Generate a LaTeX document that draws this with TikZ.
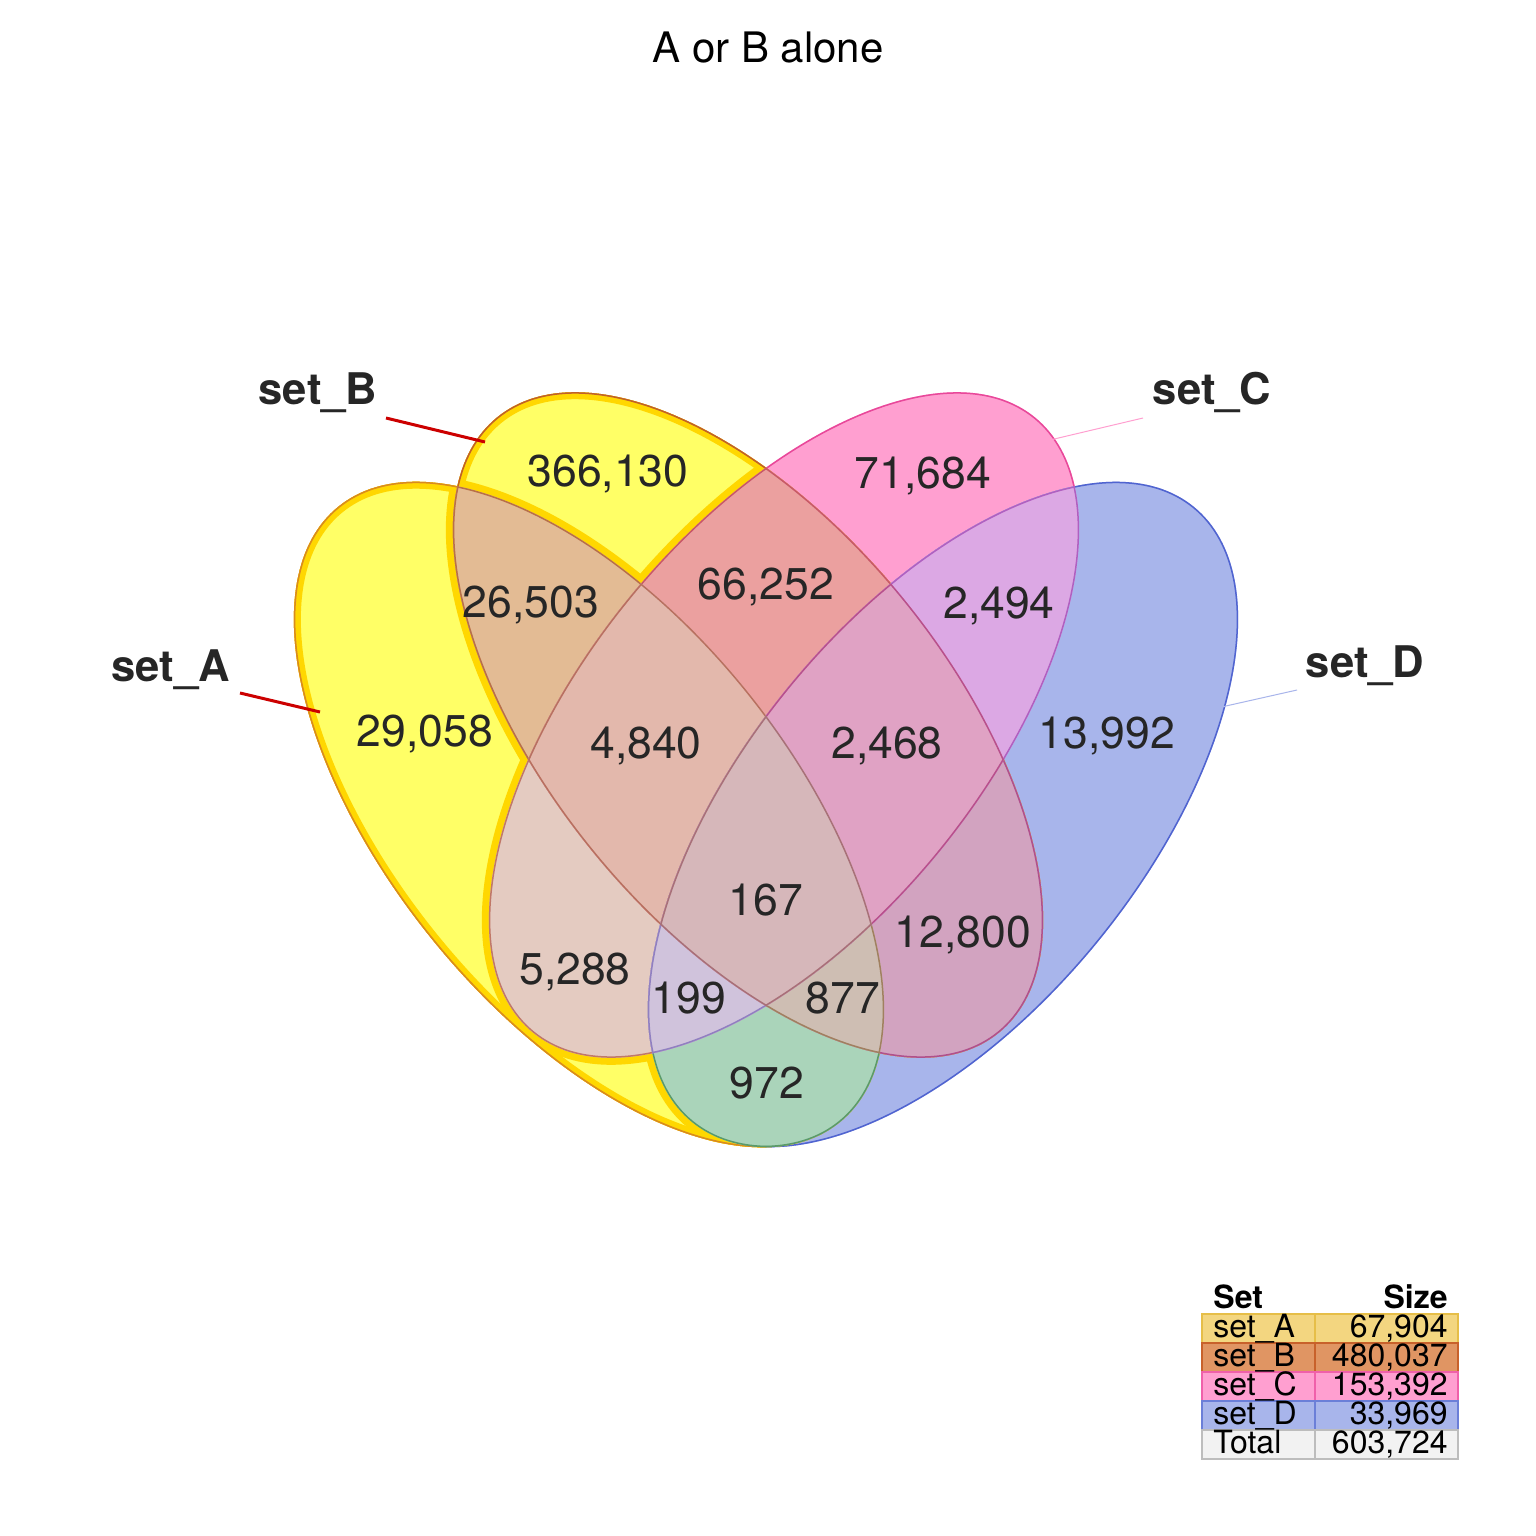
\documentclass[tikz,border=0pt]{standalone}
\usepackage{fontspec}
\setmainfont{TeX Gyre Heros}
\definecolor{cY}{HTML}{FFFF66}
\definecolor{cGold}{HTML}{FFD700}
\definecolor{cC}{HTML}{FF9FD0}
\definecolor{cD}{HTML}{A8B5EB}
\definecolor{cAB}{HTML}{E3BB94}
\definecolor{cAC}{HTML}{E4CBC1}
\definecolor{cAD}{HTML}{AAD4BA}
\definecolor{cBC}{HTML}{EBA09F}
\definecolor{cBD}{HTML}{D2A3C0}
\definecolor{cCD}{HTML}{DCA8E4}
\definecolor{cABC}{HTML}{E3B8AC}
\definecolor{cABD}{HTML}{CEBEB3}
\definecolor{cACD}{HTML}{D0C3DC}
\definecolor{cBCD}{HTML}{E0A2C4}
\definecolor{cABCD}{HTML}{D6B7BA}
% stroke colours of each region
\definecolor{sA}{HTML}{D98A20}
\definecolor{sB}{HTML}{C0602A}
\definecolor{sC}{HTML}{E8489A}
\definecolor{sD}{HTML}{5064D0}
\definecolor{sAB}{HTML}{B87048}
\definecolor{sAC}{HTML}{C07868}
\definecolor{sAD}{HTML}{5A9A6A}
\definecolor{sBC}{HTML}{C85868}
\definecolor{sBD}{HTML}{B0508C}
\definecolor{sCD}{HTML}{B060C0}
\definecolor{sABC}{HTML}{B87060}
\definecolor{sABD}{HTML}{A08060}
\definecolor{sACD}{HTML}{9080C0}
\definecolor{sBCD}{HTML}{B8508C}
\definecolor{sABCD}{HTML}{A87078}
\definecolor{numgray}{HTML}{262626}
\definecolor{leadred}{HTML}{CC0000}
\definecolor{tA}{HTML}{F3D680}
\definecolor{tAb}{HTML}{E6BE48}
\definecolor{tB}{HTML}{E09563}
\definecolor{tBb}{HTML}{C8612B}
\definecolor{tC}{HTML}{FF9FD0}
\definecolor{tCb}{HTML}{F060AA}
\definecolor{tD}{HTML}{A8B5EB}
\definecolor{tDb}{HTML}{6B7FD8}
\definecolor{tT}{HTML}{F2F2F2}
\definecolor{tTb}{HTML}{BDBDBD}
\def\vellipse{(0,0) ellipse [x radius=198.5pt, y radius=100.25pt]}
\newcommand\singleL[3]{\fill[e#1,fill=#2]\vellipse;
  \begin{scope}\clip[e#1]\vellipse;\draw[e#1,draw=#3,sline]\vellipse;\end{scope}}
\newcommand\pairL[4]{\begin{scope}\clip[e#1]\vellipse;\clip[e#2]\vellipse;
  \fill[e#2,fill=#3]\vellipse;
  \draw[e#1,draw=#4,sline]\vellipse;\draw[e#2,draw=#4,sline]\vellipse;\end{scope}}
\newcommand\tripL[5]{\begin{scope}\clip[e#1]\vellipse;\clip[e#2]\vellipse;\clip[e#3]\vellipse;
  \fill[e#3,fill=#4]\vellipse;
  \draw[e#1,draw=#5,sline]\vellipse;\draw[e#2,draw=#5,sline]\vellipse;\draw[e#3,draw=#5,sline]\vellipse;\end{scope}}
\tikzset{
  eA/.style={shift={(589,814.5)},rotate=129.2},
  eB/.style={shift={(748,725)},rotate=129.2},
  eC/.style={shift={(784,725)},rotate=50.8},
  eD/.style={shift={(943,814.5)},rotate=50.8},
  band/.style={draw=cGold, line width=7pt},
  sline/.style={line width=1.5pt},
  num/.style={anchor=base, inner sep=0pt, text=numgray, font=\fontsize{22.25}{26}\selectfont},
  lab/.style={anchor=base, inner sep=0pt, text=numgray, font=\fontsize{21.8}{26}\selectfont\bfseries},
  leadAB/.style={draw=leadred, line width=1.5pt},
  tcell/.style={line width=0.8pt},
  ttxt/.style={inner sep=0pt, font=\fontsize{16}{19}\selectfont},
}
\begin{document}
\begin{tikzpicture}[x=0.5pt,y=-0.5pt]
\fill[white] (0,0) rectangle (1536,1536);
\useasboundingbox (0,0) rectangle (1536,1536);
% single sets
\singleL{A}{cY}{sA}
\singleL{B}{cY}{sB}
\singleL{C}{cC}{sC}
\singleL{D}{cD}{sD}
% gold bands for A alone and B alone
\begin{scope}
  \clip[eA]\vellipse;
  \draw[eA,band]\vellipse;
  \draw[eB,band]\vellipse;
  \draw[eC,band]\vellipse;
  \draw[eD,band]\vellipse;
  \draw[eA,draw=sA,sline]\vellipse;
\end{scope}
\begin{scope}
  \clip[eB]\vellipse;
  \draw[eB,band]\vellipse;
  \draw[eA,band]\vellipse;
  \draw[eC,band]\vellipse;
  \draw[eD,band]\vellipse;
  \draw[eB,draw=sB,sline]\vellipse;
\end{scope}
% pairs
\pairL{A}{B}{cAB}{sAB}
\pairL{A}{C}{cAC}{sAC}
\pairL{A}{D}{cAD}{sAD}
\pairL{B}{C}{cBC}{sBC}
\pairL{B}{D}{cBD}{sBD}
\pairL{C}{D}{cCD}{sCD}
% triples
\tripL{A}{B}{C}{cABC}{sABC}
\tripL{A}{B}{D}{cABD}{sABD}
\tripL{A}{C}{D}{cACD}{sACD}
\tripL{B}{C}{D}{cBCD}{sBCD}
% all four
\begin{scope}
  \clip[eA]\vellipse; \clip[eB]\vellipse; \clip[eC]\vellipse; \clip[eD]\vellipse;
  \fill[eD,fill=cABCD]\vellipse;
  \draw[eA,draw=sABCD,sline]\vellipse;
  \draw[eB,draw=sABCD,sline]\vellipse;
  \draw[eC,draw=sABCD,sline]\vellipse;
  \draw[eD,draw=sABCD,sline]\vellipse;
\end{scope}
% title
\node[anchor=base, inner sep=0pt, font=\fontsize{21}{25}\selectfont] (title) at (768,63) {A or B alone};
% set labels and leaders
\node[lab] (labA) at (170.5,681) {set\_A};
\node[lab] (labB) at (318,404) {set\_B};
\node[lab] (labC) at (1212,404) {set\_C};
\node[lab] (labD) at (1365,677) {set\_D};
\coordinate (a0) at (240,693); \coordinate (a1) at (320,712);
\coordinate (b0) at (386,418); \coordinate (b1) at (485,442);
\coordinate (c0) at (1143,418); \coordinate (c1) at (1050,440);
\coordinate (d0) at (1297,690); \coordinate (d1) at (1217,708);
\draw[leadAB] (a0) -- (a1);
\draw[leadAB] (b0) -- (b1);
\draw[draw=tC, line width=0.5pt] (c0) -- (c1);
\draw[draw=tD, line width=0.5pt] (d0) -- (d1);
% region counts
\node[num] (nB) at (608,486) {366,130};
\node[num] (nC) at (923,488) {71,684};
\node[num] (nAB) at (531,617) {26,503};
\node[num] (nBC) at (766,599) {66,252};
\node[num] (nCD) at (999,618) {2,494};
\node[num] (nA) at (425,746) {29,058};
\node[num] (nABC) at (646,758) {4,840};
\node[num] (nBCD) at (887,758) {2,468};
\node[num] (nD) at (1107,748) {13,992};
\node[num] (nABCD) at (766,915) {167};
\node[num] (nBD) at (963,947) {12,800};
\node[num] (nAC) at (575,984) {5,288};
\node[num] (nACD) at (689,1013) {199};
\node[num] (nABD) at (843,1013) {877};
\node[num] (nAD) at (767,1098) {972};
% legend table
\node[ttxt, anchor=base west, font=\fontsize{16}{19}\selectfont\bfseries] (hset) at (1213,1308) {Set};
\node[ttxt, anchor=base east, font=\fontsize{16}{19}\selectfont\bfseries] (hsize) at (1448,1308) {Size};
\draw[tcell, fill=tA, draw=tAb] (1202,1314) rectangle (1315,1343);
\draw[tcell, fill=tA, draw=tAb] (1315,1314) rectangle (1458,1343);
\draw[tcell, fill=tB, draw=tBb] (1202,1343) rectangle (1315,1372);
\draw[tcell, fill=tB, draw=tBb] (1315,1343) rectangle (1458,1372);
\draw[tcell, fill=tC, draw=tCb] (1202,1372) rectangle (1315,1401);
\draw[tcell, fill=tC, draw=tCb] (1315,1372) rectangle (1458,1401);
\draw[tcell, fill=tD, draw=tDb] (1202,1401) rectangle (1315,1430);
\draw[tcell, fill=tD, draw=tDb] (1315,1401) rectangle (1458,1430);
\draw[tcell, fill=tT, draw=tTb] (1202,1430) rectangle (1315,1459);
\draw[tcell, fill=tT, draw=tTb] (1315,1430) rectangle (1458,1459);
\node[ttxt, anchor=base west] (r1a) at (1213,1337) {set\_A};
\node[ttxt, anchor=base east] (r1b) at (1448,1337) {67,904};
\node[ttxt, anchor=base west] (r2a) at (1213,1366) {set\_B};
\node[ttxt, anchor=base east] (r2b) at (1448,1366) {480,037};
\node[ttxt, anchor=base west] (r3a) at (1213,1395) {set\_C};
\node[ttxt, anchor=base east] (r3b) at (1448,1395) {153,392};
\node[ttxt, anchor=base west] (r4a) at (1213,1424) {set\_D};
\node[ttxt, anchor=base east] (r4b) at (1448,1424) {33,969};
\node[ttxt, anchor=base west] (r5a) at (1213,1453) {Total};
\node[ttxt, anchor=base east] (r5b) at (1448,1453) {603,724};
\end{tikzpicture}
\end{document}
